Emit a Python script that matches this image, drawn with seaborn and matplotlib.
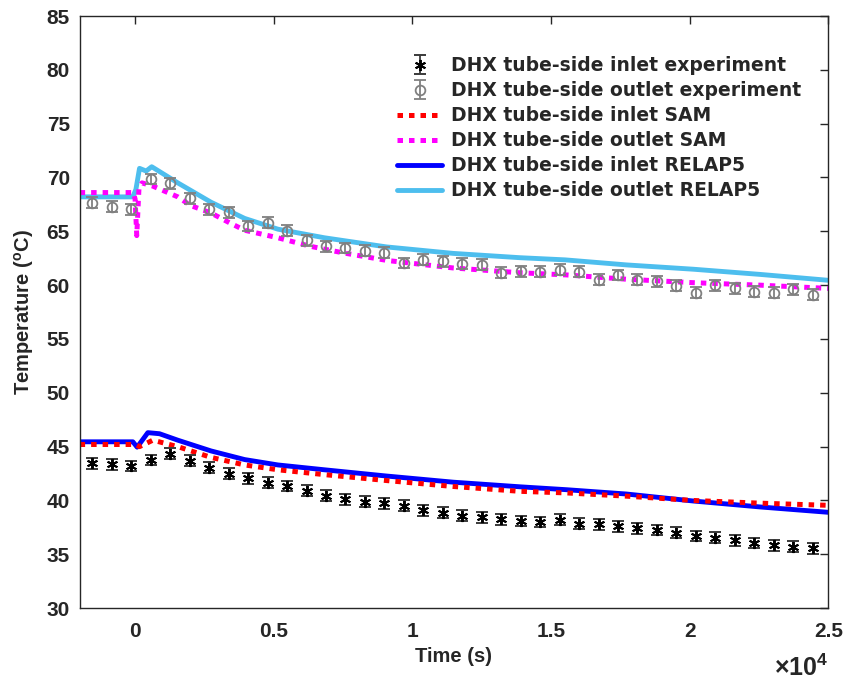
import numpy as np
import matplotlib
matplotlib.use("Agg")
import matplotlib.pyplot as plt
import seaborn as sns
from matplotlib.ticker import FuncFormatter
from matplotlib.lines import Line2D

# experiment time stamps (s) and measured temperatures (C)
exp_time = [-1540 + 702 * i for i in range(38)]
inlet_exp = [43.45, 43.35, 43.2, 43.75, 44.35, 43.7, 43.05, 42.5, 42.05, 41.65,
             41.35, 40.9, 40.45, 40.1, 39.9, 39.75, 39.5, 39.1, 38.85, 38.6,
             38.45, 38.25, 38.1, 38.0, 38.2, 37.85, 37.8, 37.6, 37.4, 37.25,
             37.0, 36.7, 36.55, 36.3, 36.05, 35.85, 35.7, 35.55]
outlet_exp = [67.65, 67.3, 67.05, 69.85, 69.45, 68.05, 67.05, 66.75, 65.5, 65.8,
              65.05, 64.15, 63.6, 63.45, 63.2, 63.0, 62.05, 62.35, 62.2, 62.0,
              61.9, 61.15, 61.3, 61.25, 61.45, 61.25, 60.5, 60.95, 60.5, 60.35,
              59.95, 59.3, 60.0, 59.7, 59.4, 59.3, 59.6, 59.1]
err = 0.5

# SAM results
sam_in_t = [-2000, 0, 160, 640, 1540, 2740, 3950, 5150, 6830, 9070, 11470,
            13880, 15560, 17720, 20130, 22530, 25000]
sam_in_T = [45.2, 45.2, 45.0, 45.6, 45.0, 44.0, 43.3, 42.85, 42.4, 41.85, 41.3,
            40.85, 40.7, 40.4, 40.0, 39.75, 39.55]
sam_out_t = [-2000, -60, 0, 60, 140, 250, 640, 1540, 2000, 2740, 3400, 3950,
             5150, 6340, 7500, 9070, 11460, 13880, 15560, 17720, 20130, 22530, 25000]
sam_out_T = [68.6, 68.6, 68.0, 64.6, 69.0, 69.5, 69.2, 68.2, 67.4, 66.7, 65.8, 65.1,
             64.4, 63.6, 63.0, 62.3, 61.6, 61.15, 60.95, 60.55, 60.23, 60.0, 59.7]

# RELAP5 results
rel_in_t = [-2000, -80, 75, 460, 880, 1540, 2740, 3950, 5150, 6830, 9070, 11470,
            13880, 15560, 17720, 20130, 22530, 25000]
rel_in_T = [45.45, 45.45, 44.95, 46.3, 46.2, 45.6, 44.6, 43.8, 43.3, 42.85, 42.27,
            41.7, 41.27, 41.0, 40.6, 39.95, 39.4, 38.9]
rel_out_t = [-2000, -80, 30, 160, 400, 600, 1540, 2740, 3950, 5150, 6830, 9070,
             11470, 13880, 15500, 17720, 20130, 22530, 25000]
rel_out_T = [68.2, 68.2, 68.9, 70.85, 70.6, 71.0, 69.5, 67.7, 66.2, 65.2, 64.4,
             63.55, 62.95, 62.55, 62.35, 61.88, 61.48, 61.0, 60.45]

labels = ["DHX tube-side inlet experiment", "DHX tube-side outlet experiment",
          "DHX tube-side inlet SAM", "DHX tube-side outlet SAM",
          "DHX tube-side inlet RELAP5", "DHX tube-side outlet RELAP5"]

sns.set_style("white")
plt.rcParams["font.family"] = ["Liberation Sans", "DejaVu Sans"]
plt.rcParams["font.weight"] = "bold"
plt.rcParams["mathtext.fontset"] = "custom"
plt.rcParams["mathtext.bf"] = "Liberation Sans:bold"
plt.rcParams["mathtext.rm"] = "Liberation Sans"

fig = plt.figure(figsize=(8.47, 6.81), dpi=100)
ax = fig.add_axes([0.094, 0.107, 0.884, 0.8695])

dot = (0, (1.1, 1.2))
lw_solid = 3.5
lw_dot = 3.6
sns.lineplot(x=rel_out_t, y=rel_out_T, ax=ax, color="#4DBEEE", lw=lw_solid, sort=False, estimator=None)
sns.lineplot(x=sam_out_t, y=sam_out_T, ax=ax, color="#FF00FF", lw=lw_dot, linestyle=dot, sort=False, estimator=None)
sns.lineplot(x=rel_in_t, y=rel_in_T, ax=ax, color="#0000FF", lw=lw_solid, sort=False, estimator=None)
sns.lineplot(x=sam_in_t, y=sam_in_T, ax=ax, color="#FF0000", lw=lw_dot, linestyle=dot, sort=False, estimator=None)

ast = (6, 2, 0)
eb_out = ax.errorbar(exp_time, outlet_exp, yerr=err, fmt="o", mfc="none", mec="#808080", ms=7,
                     mew=1.3, ecolor="#808080", elinewidth=1.3, capsize=4, capthick=1.3)
eb_in = ax.errorbar(exp_time, inlet_exp, yerr=err, fmt="", marker=ast, ls="none", color="black",
                    ms=8, mew=1.4, ecolor="#3a3a3a", elinewidth=1.3, capsize=4, capthick=1.3)

ax.set_xlim(-2000, 25000)
ax.set_ylim(30, 85)
ax.set_xticks([0, 5000, 10000, 15000, 20000, 25000])
ax.set_yticks(range(30, 90, 5))
ax.xaxis.set_major_formatter(FuncFormatter(lambda v, p: f"{v / 1e4:g}"))
ax.tick_params(direction="in", length=6, width=1, top=True, right=True,
               labelsize=15, colors="#262626")
ax.tick_params(axis="x", pad=10)
ax.tick_params(axis="y", pad=7)
for s in ax.spines.values():
    s.set_color("#262626")
    s.set_linewidth(1)

ax.set_xlabel("Time (s)", fontsize=14.5, fontweight="bold", labelpad=4)
ax.set_ylabel(r"Temperature ($\mathbf{^{o}}$C)", fontsize=14.5, fontweight="bold", labelpad=8)
ax.text(1.0, -0.1, r"$\mathrm{\times 10^{4}}$", transform=ax.transAxes, ha="right", va="center",
        fontsize=18, color="#262626")

handles = [
    eb_in,
    eb_out,
    Line2D([], [], color="#FF0000", lw=lw_dot, ls=dot),
    Line2D([], [], color="#FF00FF", lw=lw_dot, ls=dot),
    Line2D([], [], color="#0000FF", lw=lw_solid),
    Line2D([], [], color="#4DBEEE", lw=lw_solid),
]
leg = ax.legend(handles, labels, loc="upper right", bbox_to_anchor=(0.973, 0.945),
                frameon=False, handlelength=2.4, handletextpad=0.45, labelspacing=0.32,
                borderaxespad=0,
                prop={"family": ["DejaVu Sans"], "weight": "bold", "size": 13.5})

fig.savefig("out.png", dpi=100)
